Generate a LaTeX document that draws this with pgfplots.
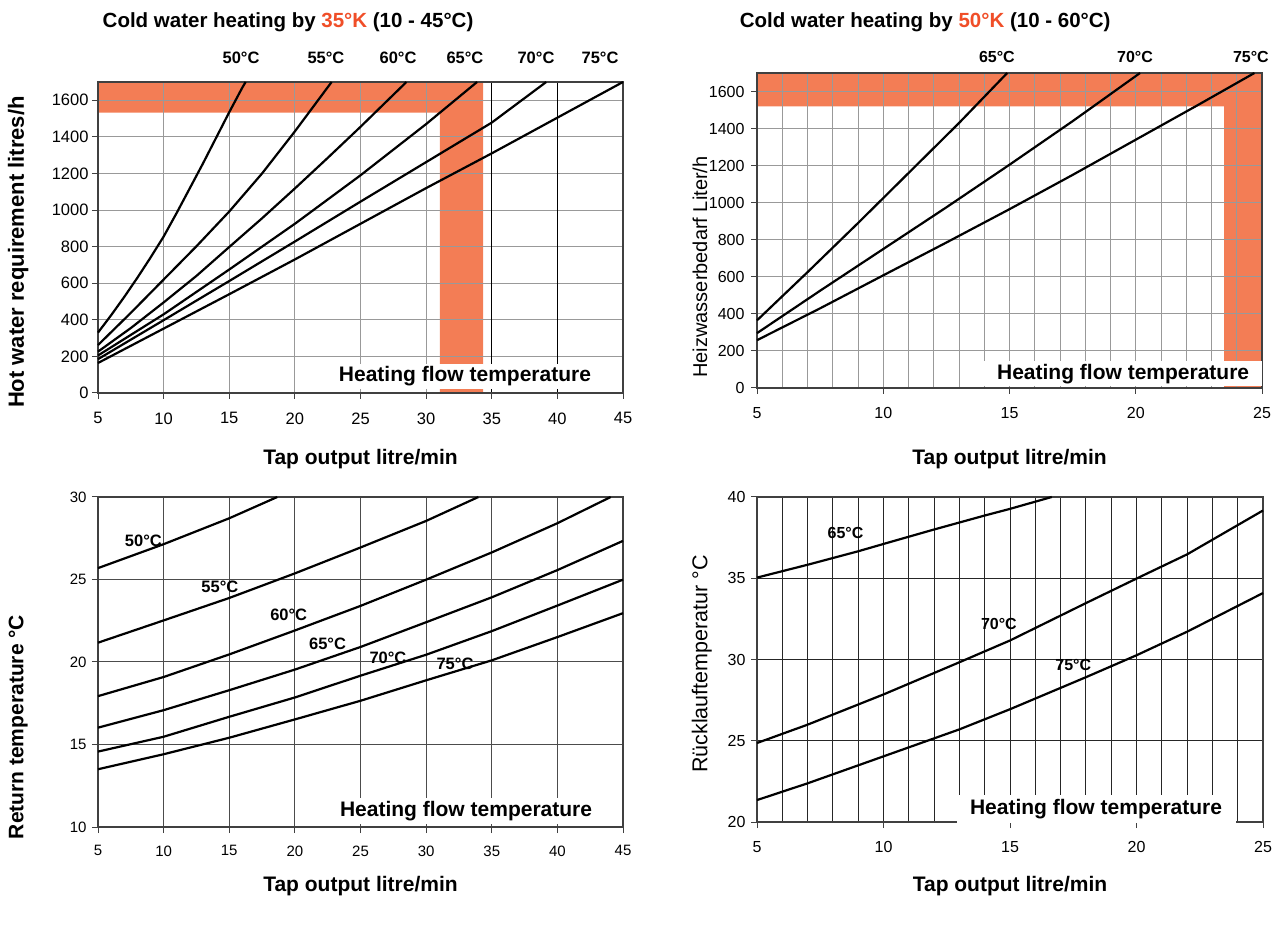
\documentclass[border=0pt]{standalone}
\usepackage{fontspec}
\setmainfont{Liberation Sans}
\usepackage{pgfplots}
\pgfplotsset{compat=1.18}
\definecolor{band}{RGB}{243,125,85}
\definecolor{redt}{RGB}{240,78,40}
\newcommand{\fs}[1]{\fontsize{#1}{#1}\selectfont}
\tikzset{hft/.style={fill=white, inner sep=0pt, font=\fs{21}\bfseries}}
\pgfplotsset{
  base/.style={
    scale only axis, set layers, clip=false,
    /pgf/number format/assume math mode=true,
    /pgf/number format/1000 sep={},
    tick align=outside, tick pos=left, major tick length=6pt,
    axis line style={draw=black!75, line width=1.3pt},
    every tick/.style={black!75, line width=1pt},
    grid=major,
    label style={font=\fs{21}\bfseries},
    title style={font=\fs{20.5}\bfseries},
    every axis title shift=0pt,
  },
  curve/.style={black, line width=2.2pt, mark=none},
}
\begin{document}
\begin{tikzpicture}
\path (0,0) rectangle (1280pt,927pt);
% ---------------- Panel 1
\begin{axis}[base, at={(98pt,534pt)}, anchor=south west, width=525pt, height=311pt,
  xmin=5, xmax=45, ymin=0, ymax=1700,
  xtick={5,10,...,45}, ytick={0,200,...,1600},
  tick label style={font=\fs{16.5}},
  xticklabel style={yshift=-10pt},
  major grid style={black!40, line width=0.9pt},
  extra x ticks={35,40}, extra x tick labels={,},
  extra x tick style={major grid style={black, line width=1pt}},
  xlabel={Tap output litre/min}, xlabel style={at={(axis description cs:0.5,-0.212)}, anchor=center},
  ylabel={Hot water requirement litres/h}, ylabel style={font=\fs{22}\bfseries, at={(axis description cs:-0.152,0.453)}, anchor=center},
  title={Cold water heating by \textcolor{redt}{35°K} (10 - 45°C)},
  title style={at={(axis description cs:0.362,1.192)}, anchor=center},
]
\addplot[draw=none, fill=band, on layer=axis background] coordinates {(5,1533) (31.05,1533) (31.05,0) (34.35,0) (34.35,1700) (5,1700)};
\addplot[curve] coordinates {(5,330) (6,425) (7,525) (8,630) (9,740) (10,855) (11,985) (12,1120) (13,1255) (14,1395) (15,1535) (16,1670) (16.25,1700)};
\addplot[curve] coordinates {(5,262) (7.5,438) (10,620) (12.5,802) (15,992) (17.5,1200) (20,1430) (22.8,1700)};
\addplot[curve] coordinates {(5,226) (7.5,355) (10,495) (12.5,640) (15,798) (17.5,955) (20,1118) (22.5,1285) (25,1455) (27,1595) (28.5,1700)};
\addplot[curve] coordinates {(5,205) (10,430) (15,675) (20,925) (25,1190) (30,1470) (33.88,1700)};
\addplot[curve] coordinates {(5,185) (10,398) (15,612) (20,828) (25,1046) (30,1262) (35,1478) (39.15,1700)};
\addplot[curve] coordinates {(5,164) (10,352) (15,540) (20,730) (25,925) (30,1120) (35,1310) (40,1505) (45,1700)};
\node[font=\fs{16.5}\bfseries] at (axis cs:15.9,1830) {50°C};
\node[font=\fs{16.5}\bfseries] at (axis cs:22.37,1830) {55°C};
\node[font=\fs{16.5}\bfseries] at (axis cs:27.86,1830) {60°C};
\node[font=\fs{16.5}\bfseries] at (axis cs:32.96,1830) {65°C};
\node[font=\fs{16.5}\bfseries] at (axis cs:38.37,1830) {70°C};
\node[font=\fs{16.5}\bfseries] at (axis cs:43.25,1830) {75°C};
\coordinate (hfA) at (axis cs:32.96,90);
\end{axis}
\node[hft, minimum width=271pt, minimum height=25pt] at (hfA) {Heating flow temperature};
% ---------------- Panel 2
\begin{axis}[base, at={(757pt,539pt)}, anchor=south west, width=505pt, height=315pt,
  xmin=5, xmax=25, ymin=0, ymax=1700,
  xtick={5,10,...,25}, ytick={0,200,...,1600},
  minor x tick num=4, xminorgrids=true, minor tick length=0pt,
  tick label style={font=\fs{16}},
  xticklabel style={yshift=-10pt},
  yticklabel style={xshift=-3pt},
  major grid style={black!40, line width=0.9pt},
  minor grid style={black!40, line width=0.9pt},
  xlabel={Tap output litre/min}, xlabel style={at={(axis description cs:0.5,-0.225)}, anchor=center},
  ylabel={Heizwasserbedarf Liter/h}, ylabel style={font=\fs{20}, at={(axis description cs:-0.113,0.384)}, anchor=center},
  title={Cold water heating by \textcolor{redt}{50°K} (10 - 60°C)},
  title style={at={(axis description cs:0.333,1.162)}, anchor=center},
]
\addplot[draw=none, fill=band, on layer=axis background] coordinates {(5,1520) (23.5,1520) (23.5,0) (25,0) (25,1700) (5,1700)};
\addplot[curve] coordinates {(5,365) (7,625) (9,890) (11,1160) (13,1430) (14.91,1700)};
\addplot[curve] coordinates {(5,296) (7.5,525) (10,750) (12.5,975) (15,1205) (17.5,1440) (20.17,1700)};
\addplot[curve] coordinates {(5,258) (7.5,430) (10,608) (12.5,785) (15,965) (17.5,1150) (20,1340) (22.5,1530) (24.7,1700)};
\node[font=\fs{16}\bfseries] at (axis cs:14.5,1784) {65°C};
\node[font=\fs{16}\bfseries] at (axis cs:19.97,1784) {70°C};
\node[font=\fs{16}\bfseries] at (axis cs:24.56,1784) {75°C};
\coordinate (hfB) at (axis cs:19.5,77.5);
\end{axis}
\node[hft, minimum width=278pt, minimum height=25pt] at (hfB) {Heating flow temperature};
% ---------------- Panel 3
\begin{axis}[base, at={(98pt,100pt)}, anchor=south west, width=525pt, height=330pt,
  xmin=5, xmax=45, ymin=10, ymax=30,
  xtick={5,10,...,45}, ytick={10,15,...,30},
  tick label style={font=\fs{15}},
  xticklabel style={yshift=-9pt},
  yticklabel style={xshift=-2pt},
  major grid style={black!70, line width=1pt},
  xlabel={Tap output litre/min}, xlabel style={at={(axis description cs:0.5,-0.179)}, anchor=center},
  ylabel={Return temperature °C}, ylabel style={at={(axis description cs:-0.152,0.303)}, anchor=center},
]
\addplot[curve] coordinates {(5,25.69) (10,27.14) (15,28.71) (18.66,30)};
\addplot[curve] coordinates {(5,21.17) (10,22.52) (15,23.88) (20,25.37) (25,26.94) (30,28.55) (33.98,30)};
\addplot[curve] coordinates {(5,17.93) (10,19.09) (15,20.46) (20,21.91) (25,23.40) (30,24.99) (35,26.64) (40,28.41) (44.06,30)};
\addplot[curve] coordinates {(5,16.02) (10,17.08) (15,18.29) (20,19.54) (25,20.91) (30,22.41) (35,23.92) (40,25.57) (45,27.34)};
\addplot[curve] coordinates {(5,14.57) (10,15.47) (15,16.68) (20,17.85) (25,19.17) (30,20.44) (35,21.87) (40,23.42) (45,24.99)};
\addplot[curve] coordinates {(5,13.50) (10,14.41) (15,15.41) (20,16.52) (25,17.65) (30,18.89) (35,20.10) (40,21.51) (45,22.96)};
\node[font=\fs{16.5}\bfseries] at (axis cs:8.46,27.34) {50°C};
\node[font=\fs{16.5}\bfseries] at (axis cs:14.29,24.53) {55°C};
\node[font=\fs{16.5}\bfseries] at (axis cs:19.53,22.86) {60°C};
\node[font=\fs{16.5}\bfseries] at (axis cs:22.49,21.11) {65°C};
\node[font=\fs{16.5}\bfseries] at (axis cs:27.09,20.24) {70°C};
\node[font=\fs{16.5}\bfseries] at (axis cs:32.2,19.9) {75°C};
\coordinate (hfC) at (axis cs:33.04,10.95);
\end{axis}
\node[hft, minimum width=271pt, minimum height=26pt] at (hfC) {Heating flow temperature};
% ---------------- Panel 4
\begin{axis}[base, at={(757pt,105pt)}, anchor=south west, width=506pt, height=325pt,
  xmin=5, xmax=25, ymin=20, ymax=40,
  xtick={5,10,...,25}, ytick={20,25,...,40},
  minor x tick num=4, xminorgrids=true, minor tick length=0pt,
  tick label style={font=\fs{16}},
  xticklabel style={yshift=-10pt},
  yticklabel style={xshift=-2pt},
  major grid style={black!85, line width=1pt},
  minor grid style={black!85, line width=1pt},
  xlabel={Tap output litre/min}, xlabel style={at={(axis description cs:0.5,-0.197)}, anchor=center},
  ylabel={Rücklauftemperatur °C}, ylabel style={font=\fs{21.5}, at={(axis description cs:-0.109,0.486)}, anchor=center},
]
\addplot[curve] coordinates {(5,35.04) (7,35.83) (9,36.66) (10,37.11) (12,38.0) (14,38.86) (15,39.27) (16.65,40)};
\addplot[curve] coordinates {(5,24.86) (7,25.99) (10,27.85) (13,29.83) (15,31.17) (18,33.47) (20,34.98) (22,36.47) (25,39.17)};
\addplot[curve] coordinates {(5,21.35) (7,22.38) (10,24.04) (13,25.7) (15,26.94) (18,28.91) (20,30.26) (22,31.71) (25,34.09)};
\node[font=\fs{16}\bfseries] at (axis cs:8.5,37.78) {65°C};
\node[font=\fs{16}\bfseries] at (axis cs:14.56,32.2) {70°C};
\node[font=\fs{16}\bfseries] at (axis cs:17.5,29.65) {75°C};
\coordinate (hfD) at (axis cs:18.4,20.8);
\end{axis}
\node[hft, minimum width=279pt, minimum height=28pt] at (hfD) {Heating flow temperature};
\end{tikzpicture}
\end{document}
